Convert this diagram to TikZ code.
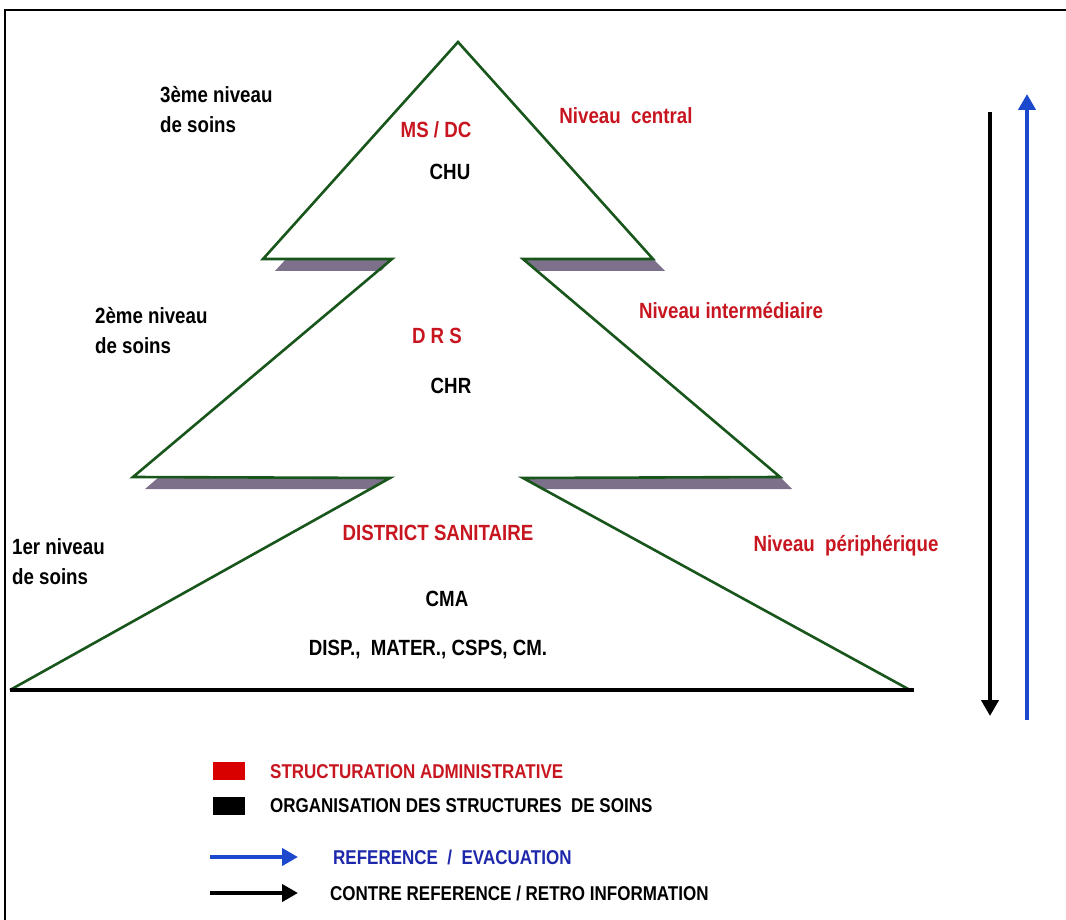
\documentclass[tikz,border=0pt]{standalone}
\usepackage{fontspec}
\setmainfont{Liberation Sans}[FakeStretch=0.85]
\usetikzlibrary{arrows.meta}
\pgfdeclarelayer{edgelayer}
\pgfdeclarelayer{nodelayer}
\pgfsetlayers{edgelayer,nodelayer,main}
\definecolor{treegreen}{RGB}{24,86,28}
\definecolor{adminred}{RGB}{200,22,32}
\definecolor{refblue}{RGB}{28,72,205}
\definecolor{legblue}{RGB}{30,40,170}
\definecolor{ledgeshade}{RGB}{125,112,138}
\tikzset{font=\bfseries\fontsize{22}{30}\selectfont}
\tikzstyle{none}=[inner sep=0pt]
\tikzstyle{lvl}=[inner sep=0pt,anchor=west,align=left,text=black]
\tikzstyle{adm}=[inner sep=0pt,text=adminred]
\tikzstyle{org}=[inner sep=0pt,text=black]
\tikzstyle{leg}=[inner sep=0pt,anchor=west,font=\bfseries\fontsize{20}{22}\selectfont]
\tikzstyle{tree}=[draw=treegreen,line width=2.6pt,line join=miter]
\tikzstyle{ledge}=[fill=ledgeshade]
\tikzstyle{swatch}=[inner sep=0pt,minimum width=32pt,minimum height=18pt]
\tikzstyle{flow}=[line width=4.5pt,-{Triangle[length=16pt,width=17pt]}]

\begin{document}
\begin{tikzpicture}[x=1pt,y=-1pt]
	\useasboundingbox (0,0) rectangle (1066,920);
	\begin{pgfonlayer}{nodelayer}
		% corners of the tree
		\node [style=none] (0) at (458, 42) {};
		\node [style=none] (1) at (263, 259) {};
		\node [style=none] (2) at (392, 259) {};
		\node [style=none] (3) at (133, 477) {};
		\node [style=none] (4) at (390, 478) {};
		\node [style=none] (5) at (10, 690) {};
		\node [style=none] (6) at (910, 690) {};
		\node [style=none] (7) at (523, 478) {};
		\node [style=none] (8) at (780, 477) {};
		\node [style=none] (9) at (523, 259) {};
		\node [style=none] (10) at (653, 259) {};
		\node [style=none] (11) at (914, 690) {};
		% levels of care
		\node [style=lvl] (12) at (160, 110) {3ème niveau\\de soins};
		\node [style=lvl] (13) at (95, 331) {2ème niveau\\de soins};
		\node [style=lvl] (14) at (12, 562) {1er niveau\\de soins};
		\node [style=adm] (15) at (436, 130) {MS / DC};
		\node [style=org] (16) at (450, 172) {CHU};
		\node [style=adm] (17) at (626, 116) {Niveau\ \ central};
		\node [style=adm] (18) at (437, 336) {D R S};
		\node [style=org] (19) at (451, 386) {CHR};
		\node [style=adm] (20) at (731, 311) {Niveau intermédiaire};
		\node [style=adm] (21) at (438, 533) {DISTRICT SANITAIRE};
		\node [style=org] (22) at (447, 599) {CMA};
		\node [style=org] (23) at (428, 650) {DISP.,\ \ MATER., CSPS, CM.};
		\node [style=adm] (24) at (846, 546) {Niveau\ \ périphérique};
		% flows
		\node [style=none] (25) at (990, 112) {};
		\node [style=none] (26) at (990, 716) {};
		\node [style=none] (27) at (1027, 720) {};
		\node [style=none] (28) at (1027, 94) {};
		% legend
		\node [style=swatch,fill=red!85!black] (29) at (229, 771) {};
		\node [style=swatch,fill=black] (30) at (229, 806) {};
		\node [style=leg,text=adminred] (31) at (270, 772) {STRUCTURATION ADMINISTRATIVE};
		\node [style=leg,text=black] (32) at (270, 806) {ORGANISATION DES STRUCTURES\ \ DE SOINS};
		\node [style=none] (33) at (210, 857) {};
		\node [style=none] (34) at (298, 857) {};
		\node [style=leg,text=legblue] (35) at (333, 857) {REFERENCE\ \ /\ \ EVACUATION};
		\node [style=none] (36) at (210, 893) {};
		\node [style=none] (37) at (298, 893) {};
		\node [style=leg,text=black] (38) at (330, 893) {CONTRE REFERENCE / RETRO INFORMATION};
	\end{pgfonlayer}
	\begin{pgfonlayer}{edgelayer}
		\draw[line width=2pt] (5,920) -- (5,10) -- (1066,10);
		\fill[style=ledge] (286,259) -- (392,259) -- (381,271) -- (275,271) -- cycle;
		\fill[style=ledge] (523,259) -- (653,259) -- (665,271) -- (537,271) -- cycle;
		\fill[style=ledge] (159,477) -- (390,477) -- (370,489) -- (145,489) -- cycle;
		\fill[style=ledge] (523,477) -- (780,477) -- (792,489) -- (543,489) -- cycle;
		\draw[style=tree] (5.center) to (4.center) to (3.center) to (2.center) to (1.center) to (0.center) to (10.center) to (9.center) to (8.center) to (7.center) to (6.center);
		\draw[line width=4pt] (5.center) to (11.center);
		\draw[style=flow,black] (25.center) to (26.center);
		\draw[style=flow,refblue] (27.center) to (28.center);
		\draw[style=flow,refblue] (33.center) to (34.center);
		\draw[style=flow,black] (36.center) to (37.center);
	\end{pgfonlayer}
\end{tikzpicture}
\end{document}
